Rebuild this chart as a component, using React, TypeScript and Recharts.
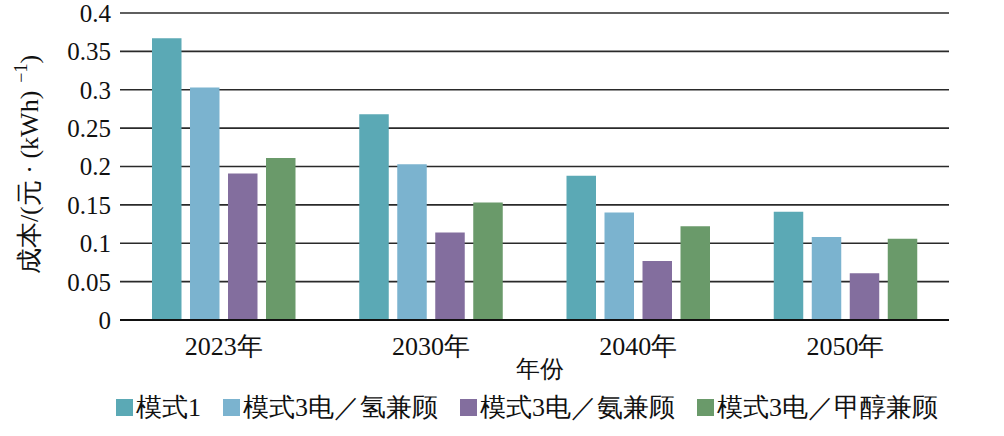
import React from "react";
import {
  BarChart,
  Bar,
  XAxis,
  YAxis,
  CartesianGrid,
  Legend,
  Label,
} from "recharts";

const years = ["2023年", "2030年", "2040年", "2050年"];
const mode1 = [0.367, 0.268, 0.188, 0.141];
const mode3Hydrogen = [0.303, 0.203, 0.14, 0.108];
const mode3Ammonia = [0.191, 0.114, 0.077, 0.061];
const mode3Methanol = [0.211, 0.153, 0.122, 0.106];
const yTicks = [0, 0.05, 0.1, 0.15, 0.2, 0.25, 0.3, 0.35, 0.4];

const series = [
  { key: "m1", name: "模式1", color: "#5BA9B5", values: mode1 },
  { key: "m3h", name: "模式3电／氢兼顾", color: "#7BB3CF", values: mode3Hydrogen },
  { key: "m3a", name: "模式3电／氨兼顾", color: "#836E9E", values: mode3Ammonia },
  { key: "m3m", name: "模式3电／甲醇兼顾", color: "#6A9A6A", values: mode3Methanol },
];

const data = years.map((year, i) => {
  const row: Record<string, string | number> = { year };
  series.forEach((s) => {
    row[s.key] = s.values[i];
  });
  return row;
});

const FONT = "serif";

const renderLegend = () => (
  <div
    style={{
      display: "flex",
      alignItems: "center",
      height: 36,
      paddingLeft: 116,
      fontFamily: FONT,
      fontSize: 26,
      color: "#111",
      whiteSpace: "nowrap",
    }}
  >
    {series.map((s) => (
      <div
        key={s.key}
        style={{
          display: "flex",
          alignItems: "center",
          marginRight: 22,
          flexShrink: 0,
        }}
      >
        <span
          style={{
            display: "inline-block",
            width: 17,
            height: 17,
            background: s.color,
            marginRight: 3,
          }}
        />
        <span>{s.name}</span>
      </div>
    ))}
  </div>
);

// rotated y-axis title with a raised "−1"
const YTitle = (props: any) => {
  const vb = props.viewBox || { x: 0, y: 0, height: 0 };
  const cx = vb.x + 29;
  const cy = vb.y + vb.height / 2 - 2;
  return (
    <text
      x={cx}
      y={cy}
      transform={`rotate(-90, ${cx}, ${cy})`}
      textAnchor="middle"
      dominantBaseline="central"
      fill="#111"
      fontSize={26}
      fontFamily={FONT}
    >
      成本/(元 · (kWh)
      <tspan dx={8} dy={-8} fontSize={18}>
        −1
      </tspan>
      <tspan dy={8}>)</tspan>
    </text>
  );
};

const App: React.FC = () => {
  return (
    <div style={{ position: "absolute", left: 0, top: 0 }}>
      <BarChart
        width={1004}
        height={436}
        data={data}
        margin={{ top: 13, right: 55, left: 0, bottom: 11 }}
        barSize={29.5}
        barGap={8.5}
      >
        <CartesianGrid vertical={false} stroke="#2a2a2a" strokeWidth={1.6} />
        <XAxis
          dataKey="year"
          height={69}
          tickLine={false}
          axisLine={{ stroke: "#111", strokeWidth: 1.8 }}
          tick={{ fill: "#111", fontSize: 26, fontFamily: FONT }}
          tickMargin={11}
        >
          <Label
            value="年份"
            position="insideBottom"
            offset={12}
            dx={5}
            style={{ fill: "#111", fontSize: 24, fontFamily: FONT }}
          />
        </XAxis>
        <YAxis
          width={120}
          domain={[0, 0.4]}
          ticks={yTicks}
          interval={0}
          axisLine={false}
          tickLine={false}
          tickMargin={3}
          tickFormatter={(v: number) => String(Number(v.toFixed(2)))}
          tick={{ fill: "#111", fontSize: 25, fontFamily: FONT }}
        >
          <Label content={YTitle} />
        </YAxis>
        <Legend
          verticalAlign="bottom"
          content={renderLegend}
          wrapperStyle={{ left: 0, width: 1004 }}
        />
        {series.map((s) => (
          <Bar
            key={s.key}
            dataKey={s.key}
            name={s.name}
            fill={s.color}
            isAnimationActive={false}
          />
        ))}
      </BarChart>
    </div>
  );
};

export default App;
